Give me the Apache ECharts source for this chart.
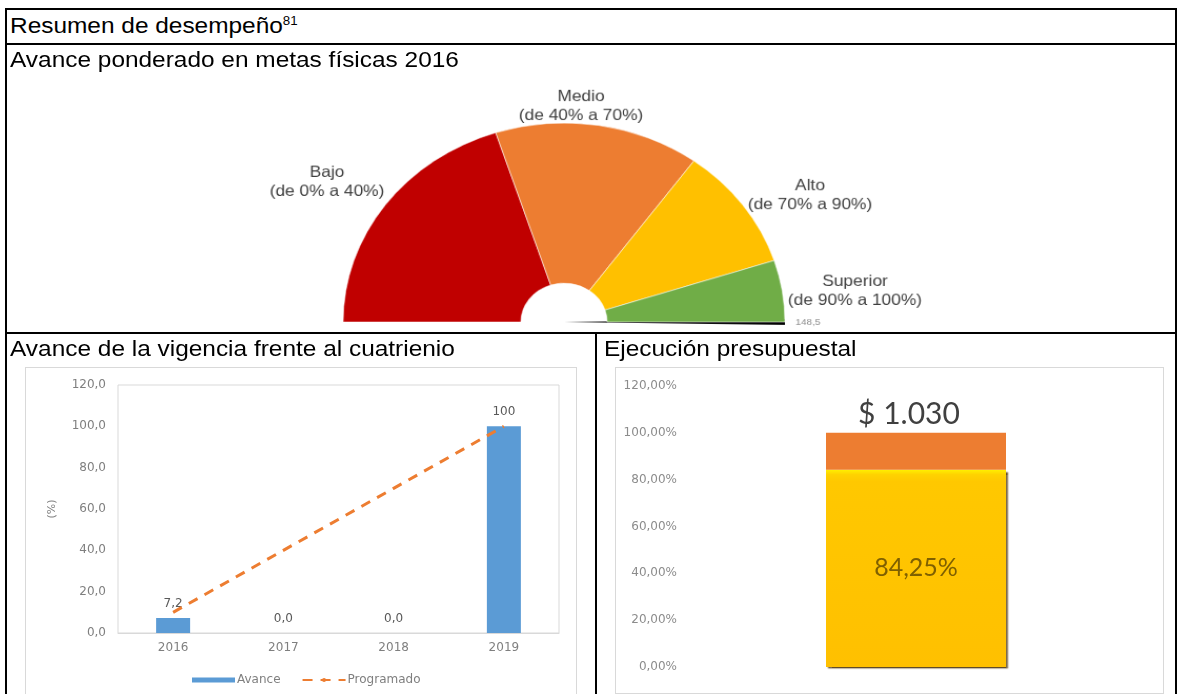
<!DOCTYPE html>
<html lang="es">
<head>
<meta charset="utf-8">
<title>Resumen de desempeño</title>
<script src="https://cdn.jsdelivr.net/npm/echarts@6/dist/echarts.min.js"></script>
<style>
  html, body { margin: 0; padding: 0; background: #fff; }
  #page { position: relative; width: 1177px; height: 694px; overflow: hidden; background: #fff; }
  .rule { position: absolute; background: #000; z-index: 5; }
  .box { position: absolute; border: 1px solid #d9d9d9; z-index: 1; }
  /* cell headings: Arial metrics, slightly widened */
  .title { position: absolute; z-index: 6; color: #000; white-space: nowrap;
           font-family: "Liberation Sans", Arial, sans-serif;
           font-size: 22px; line-height: 26px;
           transform: scaleX(1.11); transform-origin: 0 50%; }
  .title sup { font-size: 12px; line-height: 0; vertical-align: 8px; }
  #gauge { position: absolute; left: 0; top: 44px; width: 1177px; height: 288px; z-index: 2;
           transform: scale(1.052, 0.948); transform-origin: 564px 278px; }
  #bottom { position: absolute; left: 0; top: 334px; width: 1177px; height: 360px; z-index: 3; }
</style>
</head>
<body>
<div id="page">
  <!-- table frame -->
  <div class="rule" style="left:5px; top:8px; width:1172px; height:2px;"></div>
  <div class="rule" style="left:5px; top:43px; width:1172px; height:2px;"></div>
  <div class="rule" style="left:5px; top:332px; width:1172px; height:2px;"></div>
  <div class="rule" style="left:5px; top:8px; width:2px; height:686px;"></div>
  <div class="rule" style="left:1175px; top:8px; width:2px; height:686px;"></div>
  <div class="rule" style="left:595px; top:332px; width:2px; height:362px;"></div>

  <div class="title" style="left:10px; top:13px;">Resumen de desempeño<sup>81</sup></div>
  <div class="title" style="left:10px; top:47px;">Avance ponderado en metas físicas 2016</div>
  <div class="title" style="left:10px; top:336px;">Avance de la vigencia frente al cuatrienio</div>
  <div class="title" style="left:604px; top:336px;">Ejecución presupuestal</div>

  <!-- chart frames -->
  <div class="box" style="left:25px; top:367px; width:550px; height:340px;"></div>
  <div class="box" style="left:615px; top:367px; width:547px; height:325px;"></div>

  <div id="gauge"></div>
  <div id="bottom"></div>
</div>
<script>
// ---- data: weighted progress gauge ----
const niveles = ['Bajo', 'Medio', 'Alto', 'Superior'];
const rangos = ['(de 0% a 40%)', '(de 40% a 70%)', '(de 70% a 90%)', '(de 90% a 100%)'];
const tramos = [40, 30, 20, 10];
const coloresNivel = ['#C00000', '#ED7D31', '#FFC000', '#70AD47'];
const avancePonderado = 148.5;

// ---- data: progress vs four-year plan ----
const anios = ['2016', '2017', '2018', '2019'];
const avance = [7.2, 0.0, 0.0, 100];
const programado = [10, 40, 70, 100];

// ---- data: budget execution ----
const ejecutado = [84.25];
const pendiente = [15.75];
const presupuesto = 1030;

const coma = (v, d) => v.toFixed(d).replace('.', ',');
const miles = v => String(v).replace(/\B(?=(\d{3})+(?!\d))/g, '.');

// The gauge canvas is stretched (see CSS); label anchors are given on the page
// and mapped back into the canvas space.
const G_SX = 1.052, G_SY = 0.948, G_OX = 564, G_OY = 278, G_TOP = 44;
const toCanvas = (x, y) => [G_OX + (x - G_OX) / G_SX, G_OY + ((y - G_TOP) - G_OY) / G_SY];
const etiquetasNivel = [toCanvas(327, 182), toCanvas(581, 106), toCanvas(810, 195), toCanvas(855, 291)];
const etiquetaValor = toCanvas(808, 322);

const gauge = echarts.init(document.getElementById('gauge'), null, { renderer: 'canvas' });
gauge.setOption({
  animation: false,
  backgroundColor: 'transparent',
  series: [
    {
      type: 'pie',
      center: [G_OX, G_OY],
      radius: [41, 210],
      startAngle: 180,
      endAngle: 0,
      clockwise: true,
      avoidLabelOverlap: false,
      silent: true,
      itemStyle: { borderColor: 'rgba(255,255,255,0.55)', borderWidth: 1 },
      data: niveles.map((n, i) => ({ name: n, value: tramos[i], itemStyle: { color: coloresNivel[i] } })),
      label: {
        show: true,
        position: 'outside',
        formatter: p => p.name + '\n' + rangos[p.dataIndex],
        fontFamily: 'Liberation Sans, Arial, sans-serif',
        fontSize: 16.5,
        lineHeight: 20,
        color: '#3f3f3f',
        align: 'center'
      },
      labelLine: { show: false },
      labelLayout: p => ({
        x: etiquetasNivel[p.dataIndex][0],
        y: etiquetasNivel[p.dataIndex][1],
        align: 'center',
        verticalAlign: 'middle'
      })
    },
    {
      type: 'gauge',
      center: [G_OX, G_OY],
      radius: 210,
      startAngle: 180,
      endAngle: 0,
      min: 0,
      max: 100,
      silent: true,
      axisLine: { show: false },
      splitLine: { show: false },
      axisTick: { show: false },
      axisLabel: { show: false },
      anchor: { show: false },
      title: { show: false },
      pointer: {
        show: true,
        icon: 'path://M0,0 L10,0 L5,100 Z',
        length: '100%',
        width: 6,
        offsetCenter: [0, 0],
        itemStyle: { color: '#000' }
      },
      detail: {
        show: true,
        offsetCenter: [etiquetaValor[0] - G_OX, etiquetaValor[1] - G_OY],
        formatter: v => coma(v, 1),
        fontFamily: 'Liberation Sans, Arial, sans-serif',
        fontSize: 9.5,
        fontWeight: 'normal',
        color: '#8c8c8c'
      },
      data: [{ value: avancePonderado }]
    }
  ]
});

const gris = '#7f7f7f';
const fuenteEje = '"DejaVu Sans", "Liberation Sans", sans-serif';
const bottom = echarts.init(document.getElementById('bottom'), null, { renderer: 'canvas' });
bottom.setOption({
  animation: false,
  backgroundColor: 'transparent',
  textStyle: { fontFamily: fuenteEje },
  legend: {
    data: [{ name: 'Avance', icon: 'rect' }, { name: 'Programado' }],
    left: 187,
    top: 335,
    itemWidth: 43,
    itemHeight: 5,
    itemGap: 21,
    selectedMode: false,
    textStyle: { color: gris, fontSize: 12, fontFamily: fuenteEje, padding: [0, 0, 0, -3] }
  },
  grid: [
    { left: 118, top: 51, width: 441, height: 248, show: true, borderColor: '#d9d9d9', borderWidth: 1 },
    { left: 690, top: 52, width: 452, height: 281 }
  ],
  xAxis: [
    {
      type: 'category', gridIndex: 0, data: anios,
      axisLine: { lineStyle: { color: '#d9d9d9' } },
      axisTick: { show: false },
      axisLabel: { color: gris, fontSize: 12, fontFamily: fuenteEje, margin: 9 }
    },
    {
      type: 'category', gridIndex: 1, data: ['Ejecución'],
      axisLine: { show: false }, axisTick: { show: false }, axisLabel: { show: false }
    }
  ],
  yAxis: [
    {
      type: 'value', gridIndex: 0, min: 0, max: 120, interval: 20,
      splitLine: { show: false }, axisLine: { show: false }, axisTick: { show: false },
      axisLabel: { color: gris, fontSize: 12, fontFamily: fuenteEje, margin: 12, formatter: v => coma(v, 1) },
      name: '(%)', nameLocation: 'middle', nameGap: 60, nameRotate: 90,
      nameTextStyle: { color: gris, fontSize: 11, fontFamily: fuenteEje }
    },
    {
      type: 'value', gridIndex: 1, min: 0, max: 120, interval: 20,
      splitLine: { show: false }, axisLine: { show: false }, axisTick: { show: false },
      axisLabel: { color: '#8c8c8c', fontSize: 12, fontFamily: fuenteEje, margin: 13, formatter: v => coma(v, 2) + '%' }
    }
  ],
  series: [
    {
      name: 'Avance', type: 'bar', xAxisIndex: 0, yAxisIndex: 0,
      data: avance, barWidth: 34,
      itemStyle: { color: '#5B9BD5' },
      label: {
        show: true, position: 'top', distance: 8, color: '#595959', fontSize: 12, fontFamily: fuenteEje,
        formatter: p => (p.value >= 100 ? String(p.value) : coma(p.value, 1))
      }
    },
    {
      name: 'Programado', type: 'line', xAxisIndex: 0, yAxisIndex: 0,
      data: programado, symbol: 'none', z: 3,
      itemStyle: { color: '#ED7D31' },
      lineStyle: { color: '#ED7D31', width: 3, type: [10, 8] }
    },
    {
      name: 'Ejecutado', type: 'bar', xAxisIndex: 1, yAxisIndex: 1, stack: 'presupuesto',
      data: ejecutado, barWidth: 180,
      itemStyle: {
        color: new echarts.graphic.LinearGradient(0, 0, 0, 1, [
          { offset: 0, color: '#FFF000' },
          { offset: 0.025, color: '#FFD200' },
          { offset: 0.06, color: '#FFC800' },
          { offset: 1, color: '#FFC000' }
        ]),
        shadowColor: 'rgba(70,45,0,0.85)', shadowOffsetX: 2, shadowOffsetY: 2, shadowBlur: 1.5
      },
      label: {
        show: true, position: 'inside', color: '#7F6000',
        fontFamily: 'Lato, "Open Sans", sans-serif', fontSize: 25,
        formatter: p => coma(p.value, 2) + '%'
      }
    },
    {
      name: 'Pendiente', type: 'bar', xAxisIndex: 1, yAxisIndex: 1, stack: 'presupuesto',
      data: pendiente, barWidth: 180,
      itemStyle: { color: '#ED7D31' },
      label: {
        show: true, position: 'top', distance: 4, offset: [-7, 0], color: '#404040',
        fontFamily: 'Lato, "Open Sans", sans-serif', fontSize: 30,
        formatter: () => '$ ' + miles(presupuesto)
      }
    }
  ]
});
</script>
</body>
</html>
